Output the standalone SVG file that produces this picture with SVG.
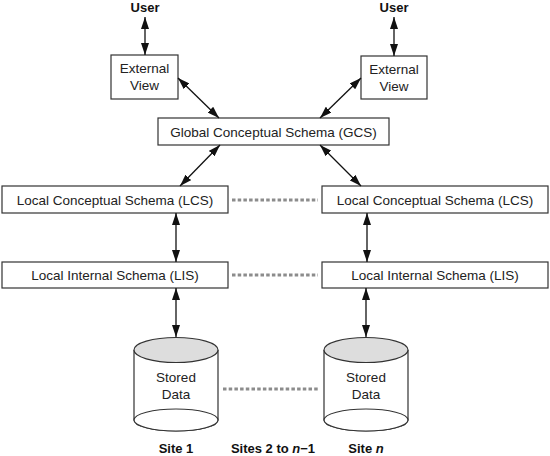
<svg xmlns="http://www.w3.org/2000/svg" width="550" height="456" viewBox="0 0 550 456">
<defs>
<marker id="ah" viewBox="0 0 12 8" refX="12" refY="4" markerWidth="12" markerHeight="8" markerUnits="userSpaceOnUse" orient="auto-start-reverse">
<path d="M0,0 L12,4 L0,8 Z" fill="#111"/>
</marker>
<style>
.box{fill:#fff;stroke:#333;stroke-width:1.2}
.t{font-family:"Liberation Sans",Arial,sans-serif;font-size:13.5px;fill:#222;text-anchor:middle}
.b{font-family:"Liberation Sans",Arial,sans-serif;font-size:13px;font-weight:bold;fill:#111;text-anchor:middle}
.a{stroke:#111;stroke-width:1.3;fill:none;marker-start:url(#ah);marker-end:url(#ah)}
.d{stroke:#8c8c8c;stroke-width:2.8;stroke-dasharray:3.5,2.2;fill:none}
.cyl{fill:#fff;stroke:#333;stroke-width:1.2}
.top{fill:#ddd;stroke:#333;stroke-width:1.2}
</style>
</defs>
<rect width="550" height="456" fill="#fff"/>
<g id="user1"><text class="b" x="145" y="12">User</text></g>
<g id="user2"><text class="b" x="394" y="12">User</text></g>
<g id="ev1"><rect class="box" x="111" y="55" width="67" height="44"/><text class="t" x="144.5" y="73">External</text><text class="t" x="144.5" y="90">View</text></g>
<g id="ev2"><rect class="box" x="361" y="56" width="66" height="43"/><text class="t" x="394" y="73.5">External</text><text class="t" x="394" y="90.5">View</text></g>
<g id="gcs"><rect class="box" x="158" y="118" width="231" height="27"/><text class="t" x="273.5" y="136.5">Global Conceptual Schema (GCS)</text></g>
<g id="lcs1"><rect class="box" x="2" y="186" width="226" height="27"/><text class="t" x="115" y="204.5">Local Conceptual Schema (LCS)</text></g>
<g id="lcs2"><rect class="box" x="322" y="186" width="226" height="27"/><text class="t" x="435" y="204.5">Local Conceptual Schema (LCS)</text></g>
<g id="lis1"><rect class="box" x="2" y="262" width="226" height="26"/><text class="t" x="115" y="280">Local Internal Schema (LIS)</text></g>
<g id="lis2"><rect class="box" x="322" y="262" width="226" height="26"/><text class="t" x="435" y="280">Local Internal Schema (LIS)</text></g>
<g id="db1">
<path class="cyl" d="M134,350 L134,420 A42,11 0 0 0 218,420 L218,350"/>
<ellipse class="cyl" cx="176" cy="420" rx="42" ry="11"/>
<ellipse class="top" cx="176" cy="350" rx="42" ry="12.5"/>
<text class="t" x="176" y="382">Stored</text><text class="t" x="176" y="399">Data</text>
</g>
<g id="db2">
<path class="cyl" d="M324,350 L324,420 A42,11 0 0 0 408,420 L408,350"/>
<ellipse class="cyl" cx="366" cy="420" rx="42" ry="11"/>
<ellipse class="top" cx="366" cy="350" rx="42" ry="12.5"/>
<text class="t" x="366" y="382">Stored</text><text class="t" x="366" y="399">Data</text>
</g>
<g id="labels">
<text class="b" x="176" y="453">Site 1</text>
<text class="b" x="273" y="453">Sites 2 to <tspan font-style="italic">n</tspan>−1</text>
<text class="b" x="366" y="453">Site <tspan font-style="italic">n</tspan></text>
</g>
<g id="connectors">
<line class="a" x1="145" y1="17" x2="145" y2="55"/>
<line class="a" x1="394" y1="17" x2="394" y2="56"/>
<line class="a" x1="178" y1="78" x2="219" y2="118"/>
<line class="a" x1="361" y1="78" x2="320" y2="118"/>
<line class="a" x1="220" y1="145" x2="180" y2="186"/>
<line class="a" x1="320" y1="145" x2="361" y2="186"/>
<line class="a" x1="176" y1="213" x2="176" y2="262"/>
<line class="a" x1="367" y1="213" x2="367" y2="262"/>
<line class="a" x1="176" y1="288" x2="176" y2="337"/>
<line class="a" x1="366" y1="288" x2="366" y2="337"/>
<line class="d" x1="232" y1="200" x2="318" y2="200"/>
<line class="d" x1="232" y1="275" x2="318" y2="275"/>
<line class="d" x1="223" y1="389" x2="318" y2="389"/>
</g>
</svg>
